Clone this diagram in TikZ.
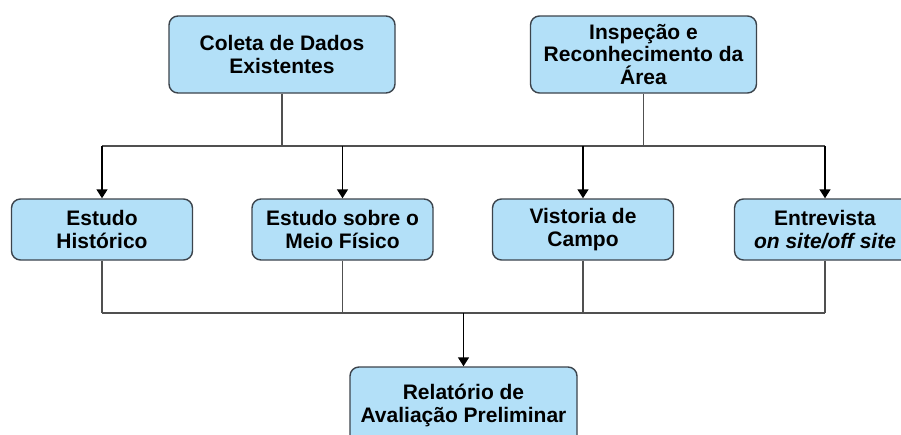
\documentclass[tikz,border=0pt]{standalone}
\usepackage{fontspec}
\setmainfont{Liberation Sans}
\usetikzlibrary{arrows.meta}
\definecolor{boxfill}{HTML}{B3E0F8}
\definecolor{boxline}{HTML}{3C444C}
\definecolor{connline}{HTML}{505050}
\begin{document}
\begin{tikzpicture}[x=1pt,y=-1pt,
  box/.style={draw=boxline, line width=1.4pt, fill=boxfill, rounded corners=9pt,
    align=center, inner sep=0pt, font=\fontsize{21}{22.5}\selectfont\bfseries},
  topbox/.style={box, minimum width=226pt, minimum height=77pt},
  midbox/.style={box, minimum width=181pt, minimum height=61pt},
  conn/.style={draw=connline, line width=1.4pt},
  arr/.style={draw=black, line width=1.4pt, -{Triangle[width=11pt,length=9pt]}}]
\useasboundingbox (0,0) rectangle (901,434);
\fill[white] (0,0) rectangle (901,434);

\node[topbox] (coleta) at (282,54.5) {Coleta de Dados\\Existentes};
\node[topbox] (insp) at (643.5,54.5) {Inspeção e\\Reconhecimento da\\Área};

\node[midbox] (hist) at (102,229.5) {Estudo\\Histórico};
\node[midbox] (meio) at (342.5,229.5) {Estudo sobre o\\Meio Físico};
\node[midbox] (vist) at (583,229.5) {Vistoria de\\Campo};
\node[midbox] (entr) at (825,229.5) {Entrevista\\\textit{on site/off site}};

\node[topbox, minimum width=227pt] (rel) at (463.5,405.5) {Relatório de\\Avaliação Preliminar};

\coordinate (tl) at (102,146);
\coordinate (tr) at (825,146);
\coordinate (bl) at (102,313);
\coordinate (br) at (825,313);

\draw[conn] (coleta.south) -- (coleta.south |- tl);
\draw[conn] (insp.south) -- (insp.south |- tl);
\draw[conn] (tl) -- (tr);
\draw[arr] (hist.north |- tl) -- (hist.north);
\draw[arr] (meio.north |- tl) -- (meio.north);
\draw[arr] (vist.north |- tl) -- (vist.north);
\draw[arr] (entr.north |- tl) -- (entr.north);

\draw[conn] (hist.south) -- (hist.south |- bl);
\draw[conn] (meio.south) -- (meio.south |- bl);
\draw[conn] (vist.south) -- (vist.south |- bl);
\draw[conn] (entr.south) -- (entr.south |- bl);
\draw[conn] (bl) -- (br);
\draw[arr] (rel.north |- bl) -- (rel.north);
\end{tikzpicture}
\end{document}
